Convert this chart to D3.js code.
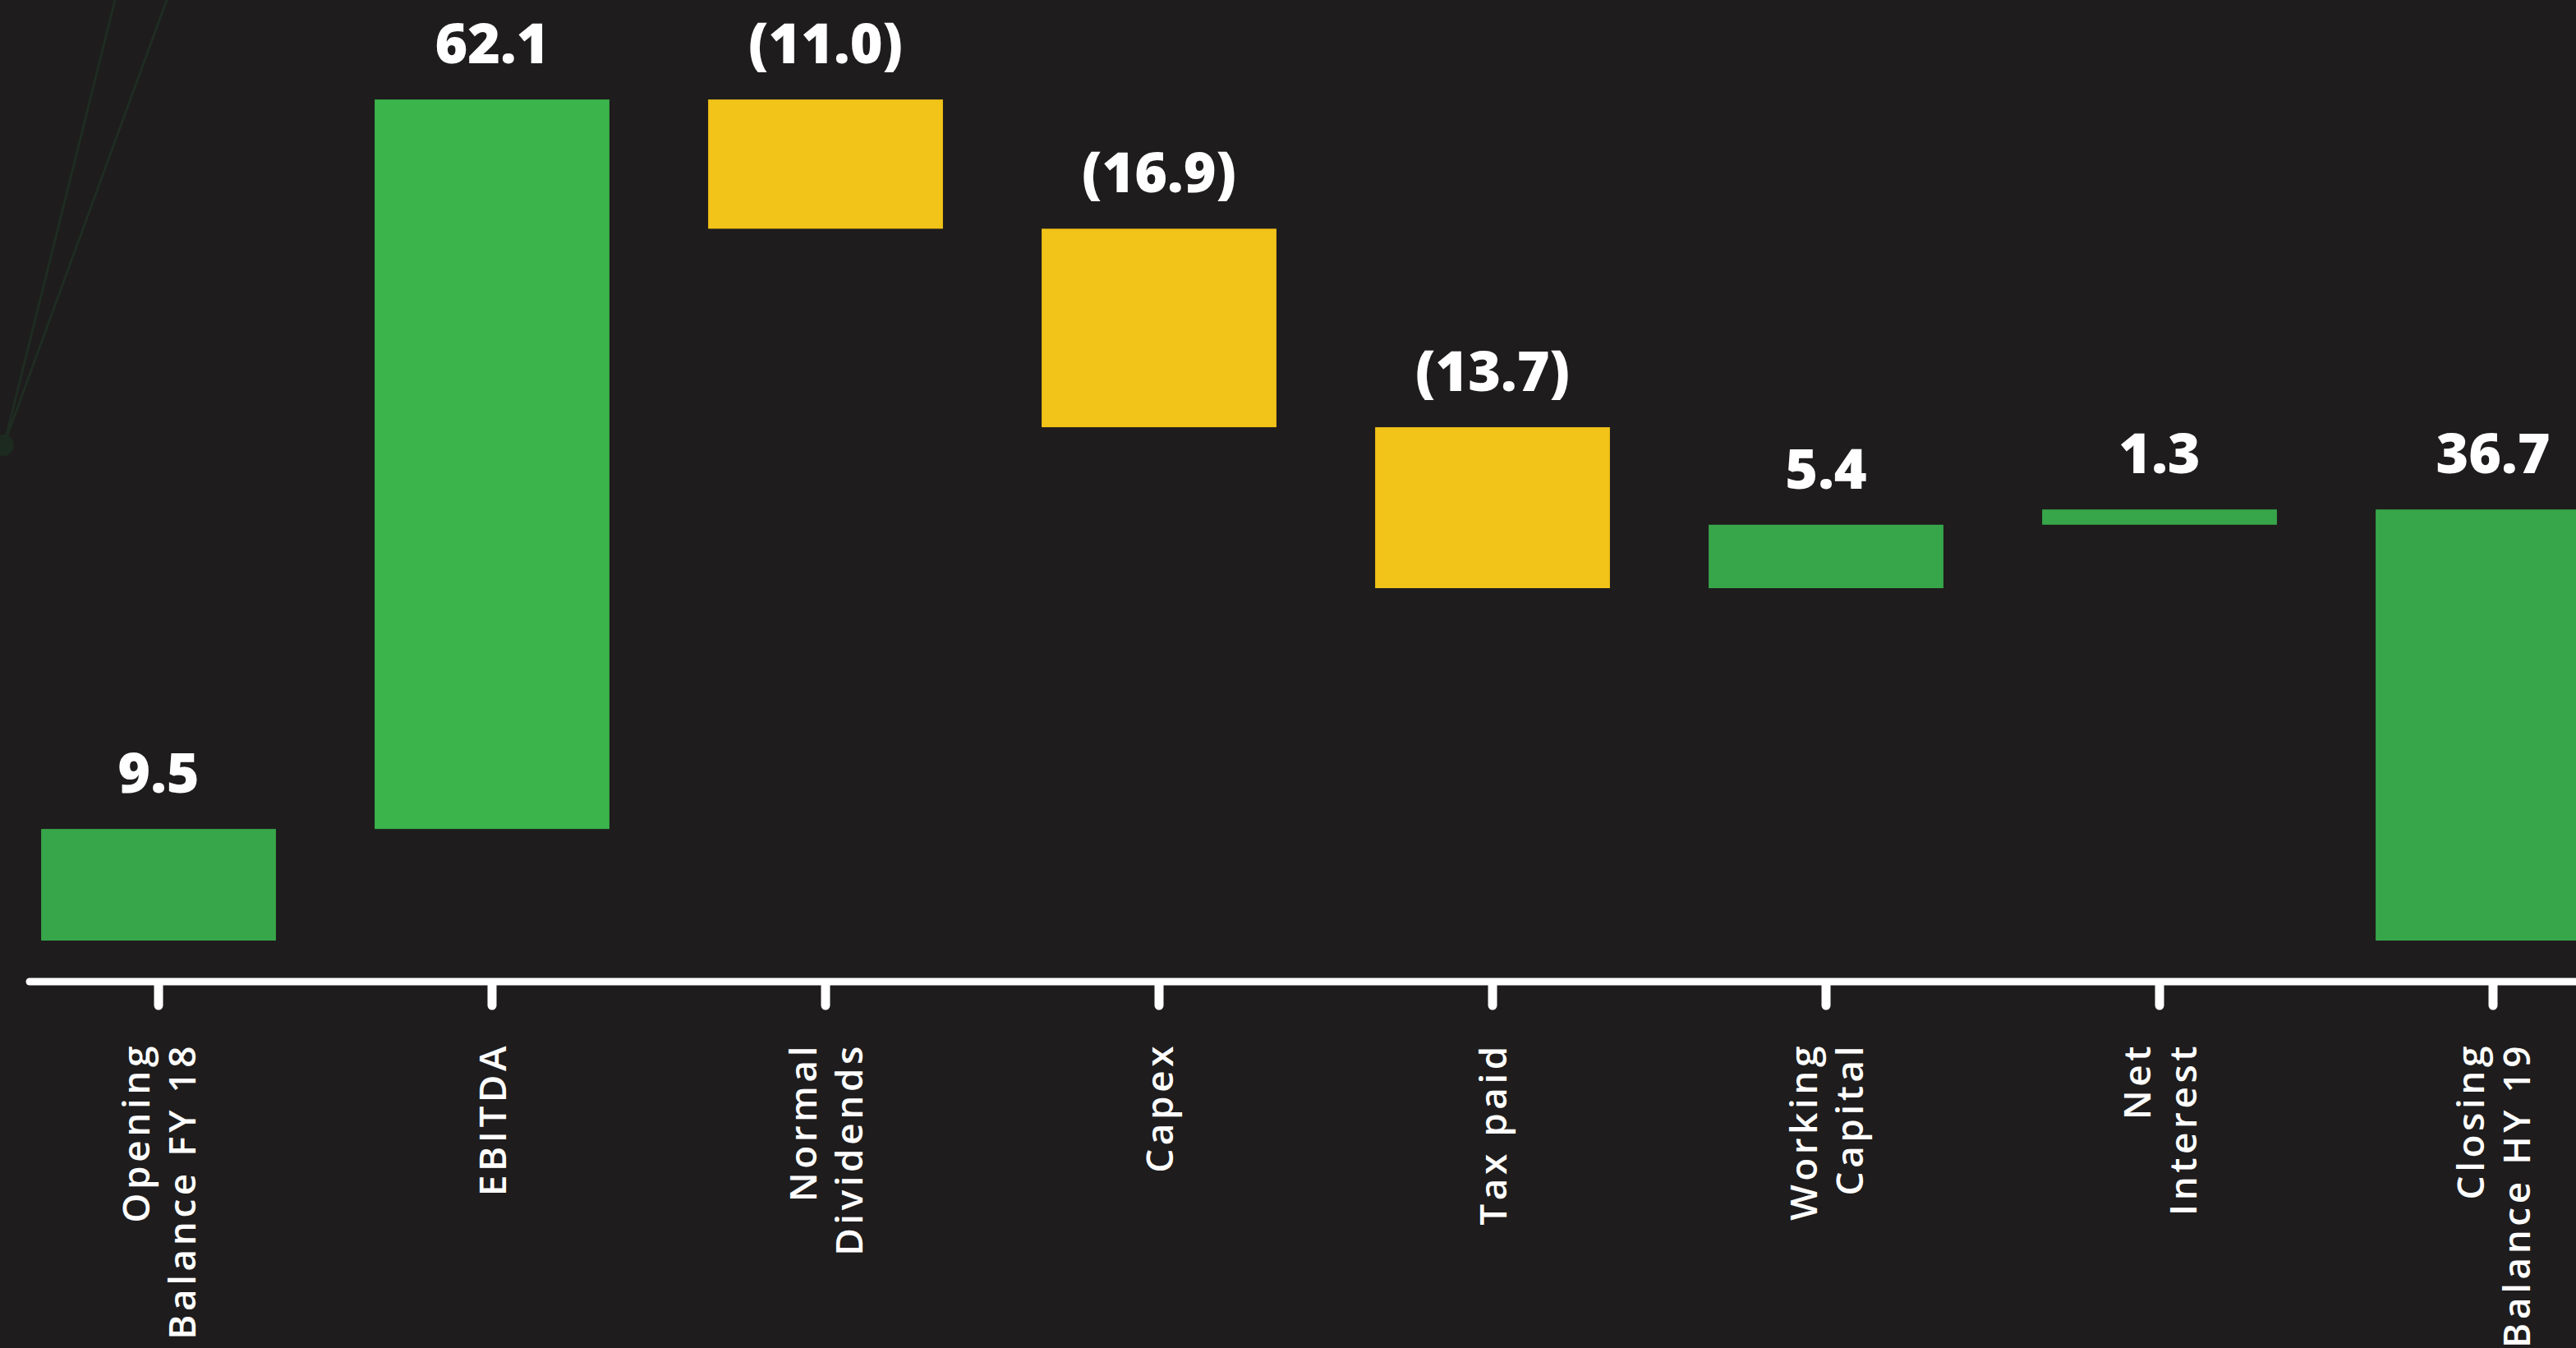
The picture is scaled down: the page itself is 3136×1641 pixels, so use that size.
<!DOCTYPE html>
<html>
<head>
<meta charset="utf-8">
<script src="https://cdn.jsdelivr.net/npm/d3@7"></script>
<style>
  html, body { margin: 0; padding: 0; background: #1e1c1d; overflow: hidden; }
  svg { display: block; }
</style>
</head>
<body>
<svg id="chart" width="3136" height="1641"></svg>
<script>
// ---- data ----
const categories = ["Opening Balance FY 18", "EBITDA", "Normal Dividends", "Capex", "Tax paid", "Working Capital", "Net Interest", "Closing Balance HY 19"];
const categoryLines = [["Opening", "Balance FY 18"], ["EBITDA"], ["Normal", "Dividends"], ["Capex"], ["Tax paid"], ["Working", "Capital"], ["Net", "Interest"], ["Closing", "Balance HY 19"]];
const values = [9.5, 62.1, -11.0, -16.9, -13.7, 5.4, 1.3, 36.7];
const barTypes = ["total", "delta", "delta", "delta", "delta", "delta", "delta", "total"];
const highlighted = "EBITDA";

// ---- layout ----
const W = 3136, H = 1641;
const svg = d3.select("#chart");
svg.append("rect").attr("width", W).attr("height", H).attr("fill", "#1e1c1d");

// faint decoration in the top-left corner (as in the reference slide)
const deco = svg.append("g").attr("stroke", "#1f2c22").attr("stroke-width", 3).attr("fill", "none");
deco.append("line").attr("x1", 5).attr("y1", 541).attr("x2", 140).attr("y2", 0);
deco.append("line").attr("x1", 5).attr("y1", 541).attr("x2", 203).attr("y2", 0);
svg.append("circle").attr("cx", 4).attr("cy", 542).attr("r", 13).attr("fill", "#1d2a20");

const baseY = 1145, pxPerUnit = 14.3;
const x = d3.scaleBand().domain(categories).range([-10, 3238]).paddingInner(0.296).paddingOuter(0.148);
const y = d3.scaleLinear().domain([0, 80]).range([baseY, baseY - 80 * pxPerUnit]);

// waterfall computation
let running = 0;
const bars = categories.map((c, i) => {
  let y0, y1;
  if (barTypes[i] === "total") { y0 = 0; y1 = values[i]; running = values[i]; }
  else { y0 = running; y1 = running + values[i]; running = y1; }
  return { cat: c, value: values[i], lo: Math.min(y0, y1), hi: Math.max(y0, y1) };
});

const GREEN = "#37a64a", BRIGHT = "#3bb44b", YELLOW = "#f2c318";
const color = d => d.value < 0 ? YELLOW : (d.cat === highlighted ? BRIGHT : GREEN);

svg.append("g").selectAll("rect").data(bars).join("rect")
  .attr("x", d => x(d.cat))
  .attr("width", x.bandwidth())
  .attr("y", d => y(d.hi))
  .attr("height", d => y(d.lo) - y(d.hi))
  .attr("fill", color);

const fmt = v => v < 0 ? "(" + Math.abs(v).toFixed(1) + ")" : v.toFixed(1);
svg.append("g").selectAll("text").data(bars).join("text")
  .attr("x", d => x(d.cat) + x.bandwidth() / 2)
  .attr("y", d => y(d.hi) - 44)
  .attr("text-anchor", "middle")
  .attr("fill", "#ffffff")
  .attr("font-family", "'Open Sans', sans-serif")
  .attr("font-weight", 800)
  .attr("font-size", 68)
  .text(d => fmt(d.value));

// ---- x axis ----
const axisY = 1195;
const axis = svg.append("g").attr("transform", `translate(0,${axisY})`)
  .call(d3.axisBottom(x).tickSize(0).tickFormat(""));
axis.select(".domain").remove();
axis.append("line").attr("x1", 36).attr("x2", W + 20).attr("y1", 0).attr("y2", 0)
  .attr("stroke", "#ffffff").attr("stroke-width", 9).attr("stroke-linecap", "round");
axis.selectAll(".tick line")
  .attr("y1", 2).attr("y2", 29)
  .attr("stroke", "#ffffff").attr("stroke-width", 11).attr("stroke-linecap", "round");
axis.selectAll(".tick text").remove();

const lineGap = 56, capHalf = 17;
axis.selectAll(".tick").each(function(d) {
  const i = categories.indexOf(d);
  const lines = categoryLines[i];
  const t = d3.select(this).append("text")
    .attr("transform", "translate(0,74) rotate(-90)")
    .attr("text-anchor", "end")
    .attr("fill", "#ffffff")
    .attr("font-family", "'Open Sans', sans-serif")
    .attr("font-weight", 600)
    .attr("font-size", 46)
    .attr("letter-spacing", 4.5);
  lines.forEach((ln, k) => {
    t.append("tspan").attr("x", 0)
      .attr("y", capHalf + (k - (lines.length - 1) / 2) * lineGap)
      .text(ln);
  });
});
</script>
</body>
</html>
